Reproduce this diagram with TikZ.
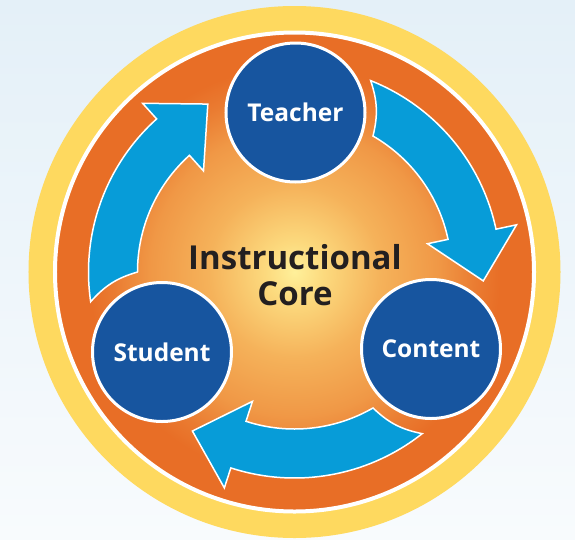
\documentclass[tikz,border=0pt]{standalone}
\usepackage{fontspec}
\setmainfont{Open Sans}
\definecolor{bgtop}{HTML}{E4F0F8}
\definecolor{bgbot}{HTML}{F8FBFD}
\definecolor{ringyellow}{HTML}{FED95F}
\definecolor{coreorange}{HTML}{E86E26}
\definecolor{nodeblue}{HTML}{17559F}
\definecolor{arrowblue}{HTML}{079CD8}
\definecolor{coretext}{HTML}{231F20}
\definecolor{gA}{HTML}{FFF09A}
\definecolor{gB}{HTML}{FCDA7E}
\definecolor{gC}{HTML}{F5B25A}
\definecolor{gD}{HTML}{F09846}
\definecolor{gE}{HTML}{EA7B31}
\pgfdeclareradialshading{coreglow}{\pgfpoint{0bp}{0bp}}{color(0bp)=(gA); color(3bp)=(gB); color(9bp)=(gC); color(15bp)=(gD); color(19bp)=(gE); color(21.5bp)=(coreorange); color(50bp)=(coreorange)}
\begin{document}
\begin{tikzpicture}[x=1pt,y=1pt,
  actor/.style={circle, fill=nodeblue, draw=white, line width=3pt, minimum size=139pt, inner sep=0pt, text=white, font=\bfseries\fontsize{24.5}{30}\selectfont},
  corelabel/.style={align=center, text=coretext, font=\bfseries\fontsize{33}{36}\selectfont, inner sep=0pt},
  cyclearrow/.style={fill=arrowblue, draw=white, line width=1.5pt, line join=miter}]
\useasboundingbox (-294.5,-267) rectangle (280.5,272);
\shade[top color=bgtop,bottom color=bgbot] (-294.5,-267) rectangle (280.5,272);
\fill[ringyellow] (0,0) circle[radius=266];
\shade[shading=coreglow] (0,0) circle[radius=239.5];
\draw[white,line width=4pt] (0,0) circle[radius=239.5];
\foreach \rot in {0,-120,-240}{
  \begin{scope}[rotate=\rot]
    \filldraw[cyclearrow] (188.3:206) arc[start angle=188.3,end angle=132,radius=206]
      -- (132:227) -- (117.3:189) -- (132:136) -- (132:157)
      arc[start angle=132,end angle=180,radius=157]
      to[bend right=16] (188.3:206) -- cycle;
  \end{scope}
}
\node[actor] (teacher) at (1,159.5) {\raisebox{-3pt}{Teacher}};
\node[actor] (student) at (-132.5,-80) {Student};
\node[actor] (content) at (136.5,-77) {Content};
\node[corelabel] (core) at (0.5,-3.5) {Instructional\\Core};
\end{tikzpicture}
\end{document}
